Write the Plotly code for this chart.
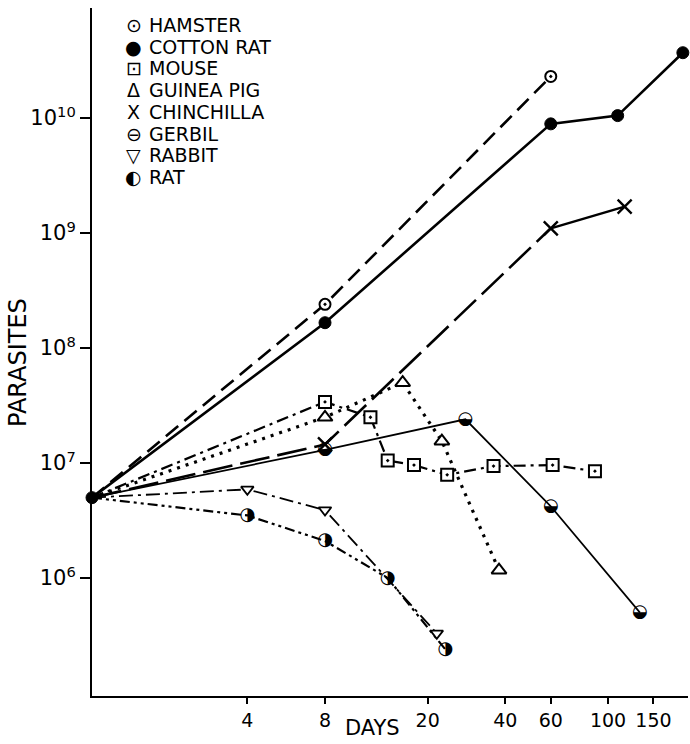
import plotly.graph_objects as go

# ---------------- data ----------------
hamster_days = [1, 8, 60]
hamster_vals = [5e6, 2.4e8, 2.3e10]

cotton_days = [1, 8, 60, 109, 195]
cotton_vals = [5e6, 1.66e8, 8.9e9, 1.05e10, 3.7e10]

mouse_days = [1, 8, 12, 14, 17.7, 23.8, 36, 61, 89]
mouse_vals = [5e6, 3.4e7, 2.5e7, 1.05e7, 9.6e6, 7.9e6, 9.4e6, 9.6e6, 8.5e6]

guinea_days = [1, 8, 16, 22.7, 37.8]
guinea_vals = [5e6, 2.5e7, 5e7, 1.55e7, 1.17e6]

chin_days = [1, 8, 60, 116]
chin_vals = [5e6, 1.45e7, 1.1e9, 1.7e9]

gerbil_days = [1, 8, 28, 60, 133]
gerbil_vals = [5e6, 1.3e7, 2.4e7, 4.2e6, 5e5]

rabbit_days = [1, 4, 8, 21.7]
rabbit_vals = [5e6, 5.9e6, 3.9e6, 3.3e5]

rat_days = [1, 4, 8, 14, 23.4]
rat_vals = [5e6, 3.5e6, 2.1e6, 1e6, 2.4e5]

x_ticks = [4, 8, 20, 40, 60, 100, 150]
x_ticktext = ["4", "8", "20", "40", "60", "100", "150"]
y_ticks = [1e6, 1e7, 1e8, 1e9, 1e10]
y_ticktext = ["10<sup>6</sup>", "10<sup>7</sup>", "10<sup>8</sup>", "10<sup>9</sup>", "10<sup>10</sup>"]

legend_names = ["HAMSTER", "COTTON RAT", "MOUSE", "GUINEA PIG", "CHINCHILLA", "GERBIL", "RABBIT", "RAT"]
legend_glyphs = ["⊙", "●", "⊡", "Δ", "X", "⊖", "▽", "◐"]

FONT = "DejaVu Sans"
K = "black"

fig = go.Figure()


def line(days, vals, dash, width):
    fig.add_trace(go.Scatter(x=days, y=vals, mode="lines",
                             line=dict(color=K, width=width, dash=dash),
                             showlegend=False, hoverinfo="skip"))


def marks(days, vals, symbol, size, lw=2, fill="white"):
    fig.add_trace(go.Scatter(x=days, y=vals, mode="markers", cliponaxis=False,
                             marker=dict(symbol=symbol, size=size, color=fill,
                                         line=dict(color=K, width=lw)),
                             showlegend=False, hoverinfo="skip"))


def glyphs(days, vals, ch, size):
    fig.add_trace(go.Scatter(x=days, y=vals, mode="text", cliponaxis=False,
                             text=[ch] * len(days), textposition="middle center",
                             textfont=dict(family=FONT, size=size, color=K),
                             showlegend=False, hoverinfo="skip"))


# lines
line(hamster_days, hamster_vals, "16px,8px", 2.6)
line(cotton_days, cotton_vals, "solid", 2.6)
line(mouse_days, mouse_vals, "12px,5px,3px,5px", 2.2)
line(guinea_days, guinea_vals, "3px,6px", 3.2)
line(chin_days[:3], chin_vals[:3], "30px,8px", 2.6)
line(chin_days[2:], chin_vals[2:], "solid", 2.4)
line(gerbil_days, gerbil_vals, "solid", 1.7)
line(rabbit_days, rabbit_vals, "14px,5px,3px,5px", 1.8)
line(rat_days, rat_vals, "10px,4px,3px,4px,3px,4px", 2.2)

# markers (the shared start point is drawn once as a filled dot)
marks(hamster_days[1:], hamster_vals[1:], "circle-dot", 11, 2)
marks(cotton_days, cotton_vals, "circle", 12, 1, K)
marks(mouse_days[1:], mouse_vals[1:], "square-dot", 12, 2)
marks(guinea_days[1:], guinea_vals[1:], "triangle-up", 13, 2)
glyphs(gerbil_days[1:], gerbil_vals[1:], "◒", 18)
marks(chin_days[1:], chin_vals[1:], "x-thin-open", 14, 2.4, K)
marks(rabbit_days[1:], rabbit_vals[1:], "triangle-down", 11, 1.8)
glyphs(rat_days[1:], rat_vals[1:], "◑", 18)

# legend as text
annotations = []
row0 = 1 - (25 - 8) / 688
step = 21.7 / 688
for i, (g, n) in enumerate(zip(legend_glyphs, legend_names)):
    y = row0 - i * step
    annotations.append(dict(xref="paper", yref="paper", x=0.070, y=y, text=g,
                            showarrow=False, xanchor="center", yanchor="middle",
                            font=dict(family=FONT, size=19, color=K)))
    annotations.append(dict(xref="paper", yref="paper", x=0.092, y=y, text=n,
                            showarrow=False, xanchor="left", yanchor="middle",
                            font=dict(family=FONT, size=19, color=K)))

annotations.append(dict(xref="paper", yref="paper", x=(372 - 92) / 596, y=-(728 - 696) / 688,
                        text="DAYS", showarrow=False, xanchor="center", yanchor="middle",
                        font=dict(family=FONT, size=21, color=K)))
annotations.append(dict(xref="paper", yref="paper", x=(18 - 92) / 596, y=1 - (363 - 8) / 688,
                        text="PARASITES", showarrow=False, textangle=-90,
                        xanchor="center", yanchor="middle",
                        font=dict(family=FONT, size=24, color=K)))

fig.update_layout(
    width=690, height=744,
    margin=dict(l=92, r=2, t=8, b=48),
    paper_bgcolor="white", plot_bgcolor="white",
    showlegend=False,
    annotations=annotations,
    xaxis=dict(type="log", range=[0, 2.31], tickvals=x_ticks, ticktext=x_ticktext,
               showgrid=False, zeroline=False, showline=True, linecolor=K, linewidth=2,
               ticks="outside", ticklen=6, tickwidth=2, tickcolor=K,
               tickfont=dict(family=FONT, size=19, color=K)),
    yaxis=dict(type="log", range=[4.974, 10.957], tickvals=y_ticks, ticktext=y_ticktext,
               showgrid=False, zeroline=False, showline=True, linecolor=K, linewidth=2,
               ticks="outside", ticklen=10, tickwidth=2, tickcolor=K,
               tickfont=dict(family=FONT, size=21, color=K)),
)

fig.write_html("out.html")
